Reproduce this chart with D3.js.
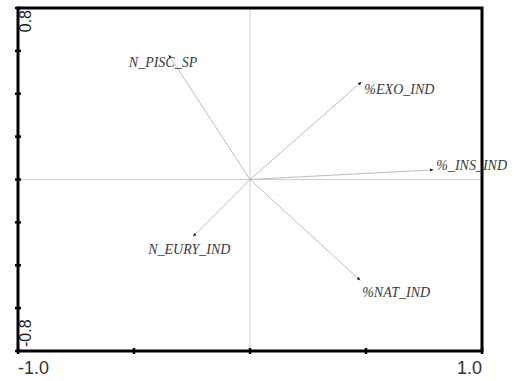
<!DOCTYPE html>
<html>
<head>
<meta charset="utf-8">
<script src="https://cdn.jsdelivr.net/npm/d3@7"></script>
<style>
  body { margin: 0; background: #fff; }
  svg { display: block; }
</style>
</head>
<body>
<svg id="biplot" width="514" height="381"></svg>
<script>
// arrow end points (axis 1, axis 2)
const labels = ["N_PISC_SP", "%EXO_IND", "%_INS_IND", "N_EURY_IND", "%NAT_IND"];
const axis1 = [-0.35, 0.48, 0.79, -0.245, 0.475];
const axis2 = [0.58, 0.455, 0.045, -0.265, -0.47];

const xTicks = [-1, -0.5, 0, 0.5, 1];
const yTicks = [-0.8, -0.6, -0.4, -0.2, 0, 0.2, 0.4, 0.6, 0.8];
const xTickLabels = ["-1.0", "1.0"];
const yTickLabels = ["-0.8", "0.8"];

function biplot() {
  const left = 18, right = 482, top = 8, bottom = 351;
  const svg = d3.select("#biplot");

  const x = d3.scaleLinear().domain([-1, 1]).range([left, right]);
  const y = d3.scaleLinear().domain([-0.8, 0.8]).range([bottom, top]);

  // zero lines
  svg.append("line")
    .attr("x1", x(0)).attr("x2", x(0))
    .attr("y1", top).attr("y2", bottom)
    .attr("stroke", "#cfcfcf").attr("stroke-width", 1);
  svg.append("line")
    .attr("x1", left).attr("x2", right)
    .attr("y1", y(0)).attr("y2", y(0))
    .attr("stroke", "#cfcfcf").attr("stroke-width", 1);

  svg.append("defs")
    .append("marker")
    .attr("id", "head")
    .attr("viewBox", "0 0 10 10")
    .attr("refX", 9).attr("refY", 5)
    .attr("markerWidth", 4).attr("markerHeight", 4)
    .attr("markerUnits", "userSpaceOnUse")
    .attr("orient", "auto")
    .append("path")
    .attr("d", "M0,1L10,5L0,9Z")
    .attr("fill", "#222");

  const data = labels.map((label, i) => ({ label, a: axis1[i], b: axis2[i] }));

  // label placement next to the arrow tip
  const offset = {
    "N_PISC_SP": [-40, 12],
    "%EXO_IND": [3, 12],
    "%_INS_IND": [3, 0],
    "N_EURY_IND": [-45, 18],
    "%NAT_IND": [2, 17],
  };

  svg.selectAll("line.vec")
    .data(data)
    .join("line")
    .attr("class", "vec")
    .attr("x1", x(0)).attr("y1", y(0))
    .attr("x2", (d) => x(d.a))
    .attr("y2", (d) => y(d.b))
    .attr("stroke", "#bdbdbd")
    .attr("stroke-width", 1)
    .attr("marker-end", "url(#head)");

  // frame
  svg.append("rect")
    .attr("x", left).attr("y", top)
    .attr("width", right - left).attr("height", bottom - top)
    .attr("fill", "none")
    .attr("stroke", "#000")
    .attr("stroke-width", 3);

  svg.selectAll("line.ytick")
    .data(yTicks)
    .join("line")
    .attr("class", "ytick")
    .attr("x1", left - 3).attr("x2", left + 3)
    .attr("y1", (d) => y(d)).attr("y2", (d) => y(d))
    .attr("stroke", "#000").attr("stroke-width", 2.5);

  svg.selectAll("line.xtick")
    .data(xTicks)
    .join("line")
    .attr("class", "xtick")
    .attr("x1", (d) => x(d)).attr("x2", (d) => x(d))
    .attr("y1", bottom - 3).attr("y2", bottom + 3)
    .attr("stroke", "#000").attr("stroke-width", 2.5);

  svg.selectAll("text.vlab")
    .data(data)
    .join("text")
    .attr("class", "vlab")
    .attr("x", (d) => x(d.a) + offset[d.label][0])
    .attr("y", (d) => y(d.b) + offset[d.label][1])
    .attr("font-family", "Liberation Serif")
    .attr("font-style", "italic")
    .attr("font-size", 14)
    .attr("fill", "#3a3a3a")
    .text((d) => d.label);

  // tick labels
  const tickFont = "Liberation Sans";
  svg.append("text")
    .attr("x", left).attr("y", 374)
    .attr("font-family", tickFont).attr("font-size", 18)
    .attr("fill", "#333")
    .text(xTickLabels[0]);
  svg.append("text")
    .attr("x", right).attr("y", 374)
    .attr("text-anchor", "end")
    .attr("font-family", tickFont).attr("font-size", 18)
    .attr("fill", "#333")
    .text(xTickLabels[1]);

  svg.append("text")
    .attr("transform", `translate(${left + 13},${bottom - 4}) rotate(-90)`)
    .attr("font-family", tickFont).attr("font-size", 16)
    .attr("fill", "#222")
    .text(yTickLabels[0]);
  svg.append("text")
    .attr("transform", `translate(${left + 13},${top + 2}) rotate(-90)`)
    .attr("text-anchor", "end")
    .attr("font-family", tickFont).attr("font-size", 16)
    .attr("fill", "#222")
    .text(yTickLabels[1]);
}

biplot();
</script>
</body>
</html>
